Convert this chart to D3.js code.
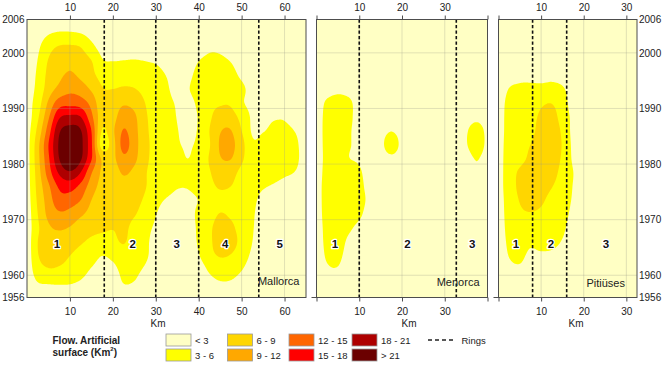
<!DOCTYPE html>
<html>
<head>
<meta charset="utf-8">
<script src="https://cdn.jsdelivr.net/npm/d3@7"></script>
<style>
  html, body { margin: 0; padding: 0; background: #ffffff; }
  svg { display: block; }
  text { font-family: "Liberation Sans", Arial, Helvetica, sans-serif; }
</style>
</head>
<body>
<svg id="chart" width="668" height="365"></svg>
<script>
// ---------------- DATA ----------------
// Grid rows (years, top to bottom) shared by the three panels
const gridYears = [2006, 2003.5, 2001, 1998.5, 1996, 1993.5, 1991, 1988.5, 1986, 1983.5, 1981,
                   1978.5, 1976, 1973.5, 1971, 1968.5, 1966, 1963.5, 1961, 1958.5, 1956];

// Km positions of grid columns
const mallorcaKm = [0, 2.5, 5, 7.5, 10, 12.5, 15, 17.5, 20, 22.5, 25, 27.5, 30, 32.5, 35, 37.5, 40,
                    42.5, 45, 47.5, 50, 52.5, 55, 57.5, 60, 62.5, 65];
const menorcaKm = [0, 2.5, 5, 7.5, 10, 12.5, 15, 17.5, 20, 22.5, 25, 27.5, 30, 32.5, 35, 37.5, 40];
const pitiusesKm = [0, 2.5, 5, 7.5, 10, 12.5, 15, 17.5, 20, 22.5, 25, 27.5, 30, 32.5];

// Flow of artificial surface (km2), one row per gridYears entry
const mallorcaFlow = [
  [0.5,0.8,1.3,1.5,1.5,1.3,0.9,0.7,0.6,0.6,0.6,0.6,0.5,0.5,0.5,0.5,0.6,0.8,0.8,0.6,0.5,0.5,0.5,0.5,0.5,0.5,0.5],
  [0.8,1.6,2.8,3.3,3.3,3.0,2.1,1.3,1.1,1.1,1.1,1.0,0.9,0.8,0.7,0.7,1.0,1.4,1.3,1.0,0.8,0.7,0.7,0.7,0.7,0.6,0.5],
  [1.0,2.5,5.0,6.3,6.5,6.0,3.8,2.1,1.8,1.8,1.8,1.6,1.4,1.1,0.9,0.9,1.6,2.5,2.4,1.6,1.1,0.9,0.8,0.8,0.8,0.7,0.6],
  [1.2,3.1,6.2,7.6,8.2,7.6,6.1,3.3,3.0,3.1,3.2,3.0,2.7,1.9,1.3,1.5,3.0,3.7,3.6,2.9,1.7,1.1,0.9,0.9,0.9,0.8,0.6],
  [1.5,3.5,6.8,8.4,9.4,8.4,6.8,5.0,4.8,5.0,5.0,4.5,4.0,2.9,1.8,2.3,3.9,4.6,4.5,3.9,2.5,1.5,1.2,1.2,1.2,1.0,0.8],
  [1.8,3.8,7.5,9.8,11.2,10.5,8.6,6.2,6.0,6.3,6.1,5.2,4.3,3.4,2.0,2.8,4.2,5.0,5.2,4.8,3.6,2.0,1.5,1.5,1.5,1.2,1.0],
  [2.0,4.5,9.5,13.5,14.0,13.5,11.0,7.0,7.5,8.6,8.0,6.0,4.6,3.8,2.7,2.2,3.6,5.2,5.7,5.6,3.4,2.2,1.8,1.8,1.8,1.5,1.0],
  [1.7,5.5,11.5,17.5,18.6,18.0,12.8,7.3,8.0,10.5,9.5,6.5,4.8,4.0,2.9,2.0,3.2,5.5,7.3,7.2,5.0,2.6,2.5,2.8,2.8,2.2,1.2],
  [1.9,6.8,13.5,20.5,22.5,21.2,15.0,5.8,8.5,12.2,10.0,6.8,4.8,4.2,3.1,2.3,3.3,6.0,8.8,9.1,6.0,2.7,2.9,3.4,3.4,2.9,1.5],
  [2.0,8.0,15.0,21.5,26.0,22.0,15.5,4.6,7.8,13.0,10.2,7.0,5.0,4.4,3.3,2.7,3.6,5.8,9.3,9.8,7.0,3.5,3.8,4.3,4.3,3.6,1.5],
  [2.0,8.0,14.5,21.0,25.0,21.5,15.3,8.5,8.3,11.3,9.7,6.8,5.0,4.4,4.0,3.0,4.3,6.2,8.8,9.1,6.5,4.3,4.0,4.3,4.3,3.7,1.6],
  [2.0,7.5,13.5,18.5,20.6,18.0,12.3,8.5,7.5,9.4,8.3,6.3,4.8,4.2,4.0,4.0,4.3,5.8,7.3,7.0,5.3,4.3,4.0,3.8,3.4,2.9,1.6],
  [1.9,7.0,11.5,15.5,16.3,14.2,10.5,8.0,7.3,7.8,7.5,6.2,4.6,4.0,3.2,3.2,4.0,5.3,6.3,6.0,4.8,3.8,3.2,2.8,2.3,1.8,1.2],
  [1.8,6.5,10.5,13.8,13.5,12.0,9.0,7.3,6.8,7.0,6.8,5.6,3.8,2.8,2.2,2.3,3.1,4.5,5.2,5.0,4.4,3.5,2.4,2.0,1.7,1.4,1.0],
  [1.6,6.0,9.8,11.5,11.0,9.5,8.0,7.0,6.8,6.7,6.2,4.8,3.1,2.0,1.6,1.8,3.7,5.0,6.1,5.6,4.5,3.3,2.0,1.6,1.4,1.2,1.0],
  [1.5,5.5,8.5,9.3,8.8,7.5,6.8,6.4,6.1,6.5,5.2,3.8,2.6,1.5,1.2,1.5,3.6,5.5,7.0,6.6,4.8,3.2,1.8,1.4,1.2,1.1,1.0],
  [1.5,6.0,7.8,7.9,7.2,6.3,5.5,5.0,5.3,6.2,4.6,3.5,2.2,1.2,1.0,1.3,3.4,5.3,7.8,7.3,5.0,3.0,1.6,1.2,1.0,1.0,1.0],
  [1.4,5.8,6.8,6.8,6.0,5.0,4.2,3.0,3.6,4.5,4.1,3.4,2.0,1.0,0.8,1.0,2.8,5.0,6.2,5.8,4.2,2.5,1.2,1.0,1.0,1.0,1.0],
  [1.2,4.8,5.8,5.6,5.0,4.0,2.8,1.8,2.3,3.7,3.5,2.7,1.5,0.8,0.7,0.8,1.5,3.4,4.3,4.2,3.1,1.8,1.0,0.8,0.8,0.8,0.8],
  [0.9,2.8,3.1,3.2,3.1,2.6,1.8,1.1,1.3,3.0,2.8,1.8,1.0,0.6,0.6,0.6,0.8,2.0,2.7,2.6,1.8,1.0,0.7,0.6,0.6,0.6,0.6],
  [0.5,1.0,1.1,1.2,1.1,1.0,0.8,0.6,0.6,1.2,1.0,0.7,0.5,0.5,0.5,0.5,0.5,0.8,1.0,1.0,0.7,0.5,0.5,0.5,0.5,0.5,0.5]
];

const menorcaFlow = [
  [0.8,0.8,0.8,0.8,0.8,0.8,0.8,0.8,0.8,0.8,0.8,0.8,0.8,0.8,0.8,0.8,0.8],
  [0.9,0.9,0.9,0.9,0.9,0.9,0.9,0.9,0.9,0.9,0.9,0.9,0.9,0.9,0.9,0.9,0.9],
  [1.0,1.0,1.0,1.0,1.0,1.0,1.0,1.0,1.0,1.0,1.0,1.0,1.0,1.0,1.0,1.0,1.0],
  [1.0,1.2,1.2,1.2,1.0,1.0,1.0,1.0,1.0,1.0,1.0,1.0,1.0,1.0,1.0,1.0,1.0],
  [1.0,1.4,1.5,1.4,1.1,1.0,1.0,1.0,1.0,1.0,1.0,1.0,1.0,1.0,1.0,1.0,1.0],
  [1.2,1.8,2.3,2.0,1.3,1.1,1.1,1.1,1.1,1.1,1.1,1.1,1.1,1.1,1.1,1.1,1.1],
  [1.5,3.5,4.2,3.6,1.8,1.2,1.2,1.3,1.2,1.2,1.2,1.2,1.2,1.2,1.3,1.4,1.2],
  [1.6,4.0,4.8,3.7,1.9,1.3,1.5,1.8,1.5,1.3,1.3,1.3,1.3,1.4,1.8,2.2,1.6],
  [1.6,4.1,4.8,3.4,2.0,1.4,2.0,2.9,2.0,1.4,1.3,1.3,1.4,1.7,2.7,4.3,2.3],
  [1.6,4.0,4.5,3.3,2.2,1.6,2.2,4.6,2.2,1.4,1.3,1.3,1.4,1.7,2.8,4.5,2.4],
  [1.6,3.9,4.4,3.1,2.6,1.6,1.7,2.3,1.7,1.3,1.3,1.3,1.3,1.5,2.0,3.15,1.9],
  [1.6,4.2,5.0,4.5,3.4,1.8,1.4,1.4,1.3,1.3,1.3,1.3,1.3,1.4,1.8,2.6,1.6],
  [1.7,4.5,5.3,4.9,3.8,2.0,1.3,1.2,1.2,1.2,1.2,1.2,1.2,1.2,1.3,1.5,1.3],
  [1.7,4.5,5.3,5.0,4.0,2.3,1.3,1.2,1.2,1.2,1.2,1.2,1.2,1.2,1.2,1.2,1.2],
  [1.7,4.3,5.0,4.5,3.5,1.8,1.2,1.2,1.2,1.2,1.2,1.2,1.2,1.2,1.2,1.2,1.2],
  [1.6,4.0,4.6,3.5,2.3,1.4,1.1,1.1,1.1,1.1,1.1,1.1,1.1,1.1,1.1,1.1,1.1],
  [1.5,3.8,4.2,2.5,1.6,1.2,1.1,1.1,1.1,1.1,1.1,1.1,1.1,1.1,1.1,1.1,1.1],
  [1.3,3.4,3.6,2.0,1.3,1.0,1.0,1.0,1.0,1.0,1.0,1.0,1.0,1.0,1.0,1.0,1.0],
  [1.0,2.6,2.8,1.6,1.1,1.0,1.0,1.0,1.0,1.0,1.0,1.0,1.0,1.0,1.0,1.0,1.0],
  [0.8,1.8,1.9,1.2,0.9,0.9,0.9,0.9,0.9,0.9,0.9,0.9,0.9,0.9,0.9,0.9,0.9],
  [0.8,0.8,0.8,0.8,0.8,0.8,0.8,0.8,0.8,0.8,0.8,0.8,0.8,0.8,0.8,0.8,0.8]
];

const pitiusesFlow = [
  [0.8,0.8,0.8,0.8,0.8,0.8,0.8,0.8,0.8,0.8,0.8,0.8,0.8,0.8],
  [0.9,0.9,0.9,0.9,0.9,0.9,0.9,0.9,0.9,0.9,0.9,0.9,0.9,0.9],
  [1.0,1.0,1.2,1.2,1.2,1.2,1.0,1.0,1.0,1.0,1.0,1.0,1.0,1.0],
  [1.0,1.3,1.5,1.5,1.5,1.5,1.3,1.1,1.0,1.0,1.0,1.0,1.0,1.0],
  [1.0,1.8,2.2,2.2,2.0,2.3,2.0,1.3,1.1,1.0,1.0,1.0,1.0,1.0],
  [1.2,3.1,3.6,3.7,3.8,3.9,3.3,1.8,1.2,1.0,1.0,1.0,1.0,1.0],
  [1.5,4.0,4.5,4.8,5.6,5.9,4.3,1.8,1.2,1.0,1.0,1.0,1.0,1.0],
  [1.6,4.2,4.6,5.2,6.4,7.0,4.8,2.3,1.2,1.0,1.0,1.0,1.0,1.0],
  [1.6,4.3,4.9,5.4,6.8,7.4,5.5,2.2,1.2,1.0,1.0,1.0,1.0,1.0],
  [1.7,4.5,5.2,6.0,7.0,7.5,5.8,2.4,1.2,1.0,1.0,1.0,1.0,1.0],
  [1.8,4.6,5.4,6.4,7.2,7.2,5.6,2.6,1.2,1.0,1.0,1.0,1.0,1.0],
  [1.8,4.8,6.3,6.8,7.0,6.8,5.2,3.05,1.3,1.0,1.0,1.0,1.0,1.0],
  [1.8,4.8,6.4,6.7,6.8,6.1,4.8,2.9,1.3,1.0,1.0,1.0,1.0,1.0],
  [1.7,4.5,6.1,6.4,6.3,5.3,4.4,2.7,1.3,1.0,1.0,1.0,1.0,1.0],
  [1.6,4.3,5.6,5.9,5.6,4.8,4.0,2.3,1.2,1.0,1.0,1.0,1.0,1.0],
  [1.5,4.0,4.8,5.0,4.7,4.3,3.5,1.8,1.1,1.0,1.0,1.0,1.0,1.0],
  [1.4,3.6,4.2,3.5,3.9,3.8,2.8,1.5,1.0,1.0,1.0,1.0,1.0,1.0],
  [1.2,3.1,3.5,2.5,2.6,2.4,1.8,1.2,1.0,1.0,1.0,1.0,1.0,1.0],
  [1.0,2.3,2.6,1.9,1.8,1.6,1.3,1.0,1.0,1.0,1.0,1.0,1.0,1.0],
  [0.9,1.5,1.6,1.3,1.2,1.1,0.9,0.9,0.9,0.9,0.9,0.9,0.9,0.9],
  [0.8,0.8,0.8,0.8,0.8,0.8,0.8,0.8,0.8,0.8,0.8,0.8,0.8,0.8]
];

// Rings (km) drawn as dashed lines
const mallorcaRings = [18, 30, 40, 54];
const menorcaRings = [10, 32.7];
const pitiusesRings = [8, 16];

// Zone numbers and where they sit (km)
const mallorcaZones = ["1", "2", "3", "4", "5"];
const mallorcaZoneKm = [7, 24.6, 34.9, 46.2, 58.9];
const menorcaZones = ["1", "2", "3"];
const menorcaZoneKm = [4.3, 21.3, 36.4];
const pitiusesZones = ["1", "2", "3"];
const pitiusesZoneKm = [4.1, 12.3, 25.2];
const zoneYear = 1965.6;

// Axis ticks and which of them carry a label
const mallorcaTicks = [10, 20, 30, 40, 50, 60];
const mallorcaTickLabels = [10, 20, 30, 40, 50, 60];
const menorcaTicks = [0, 10, 20, 30, 40];
const menorcaTickLabels = [10, 20, 30];
const pitiusesTicks = [0, 10, 20, 30];
const pitiusesTickLabels = [10, 20, 30];
const yearTicks = [1956, 1960, 1970, 1980, 1990, 2000, 2006];
const yearGrid = [1960, 1970, 1980, 1990, 2000];

// Legend
const levels = [3, 6, 9, 12, 15, 18, 21];
const legendLabels = ["< 3", "3 - 6", "6 - 9", "9 - 12", "12 - 15", "15 - 18", "18 - 21", "> 21"];

// ---------------- STYLE / LAYOUT ----------------
const bgColor = "#FFFFC4";
const levelColors = ["#FFFF00", "#FFD600", "#FFA800", "#FF6600", "#FF0000", "#AE0000", "#6B0000"];
const frameColor = "#4d4d4d";
const Y_TOP = 19.5, Y_BOT = 297.5;
const CELL = 0.25;

const panels = [
  { name: "Mallorca", km: mallorcaKm, flow: mallorcaFlow, rings: mallorcaRings, zones: mallorcaZones,
    zoneKm: mallorcaZoneKm, ticks: mallorcaTicks, tickLabels: mallorcaTickLabels, range: [27, 306],
    nameX: 299.5, nameY: 285, kmX: 158, leftAxis: true, rightAxis: false, leftTick: false },
  { name: "Menorca", km: menorcaKm, flow: menorcaFlow, rings: menorcaRings, zones: menorcaZones,
    zoneKm: menorcaZoneKm, ticks: menorcaTicks, tickLabels: menorcaTickLabels, range: [316.5, 487.5],
    nameX: 479.5, nameY: 285.5, kmX: 409, leftAxis: false, rightAxis: false, leftTick: true },
  { name: "Pitiüses", km: pitiusesKm, flow: pitiusesFlow, rings: pitiusesRings, zones: pitiusesZones,
    zoneKm: pitiusesZoneKm, ticks: pitiusesTicks, tickLabels: pitiusesTickLabels, range: [498.5, 637],
    nameX: 625, nameY: 287, kmX: 576, leftAxis: false, rightAxis: true, leftTick: true }
];

const svg = d3.select("#chart");
const y = d3.scaleLinear().domain([gridYears[gridYears.length - 1], gridYears[0]]).range([Y_BOT, Y_TOP]);

// Catmull-Rom bicubic sampling of the read grid (rendering only)
function cr(p0, p1, p2, p3, t) {
  return p1 + 0.5 * t * (p2 - p0 + t * (2 * p0 - 5 * p1 + 4 * p2 - p3 + t * (3 * (p1 - p2) + p3 - p0)));
}
function sampleGrid(grid, u, v) {
  const nr = grid.length, nc = grid[0].length;
  const i = Math.floor(u), j = Math.floor(v);
  const tx = u - i, ty = v - j;
  const cl = (a, n) => Math.max(0, Math.min(n - 1, a));
  const r = [];
  for (let dj = -1; dj <= 2; dj++) {
    const row = grid[cl(j + dj, nr)];
    r.push(cr(row[cl(i - 1, nc)], row[cl(i, nc)], row[cl(i + 1, nc)], row[cl(i + 2, nc)], tx));
  }
  return cr(r[0], r[1], r[2], r[3], ty);
}

panels.forEach((p, pi) => {
  const kmMin = p.km[0], kmMax = p.km[p.km.length - 1];
  const kmStep = p.km[1] - p.km[0];
  const yStep = gridYears[0] - gridYears[1];
  const yMax = gridYears[0], yMin = gridYears[gridYears.length - 1];
  const x = d3.scaleLinear().domain([kmMin, kmMax]).range(p.range);
  const g = svg.append("g");

  const clipId = "clip" + pi;
  svg.append("clipPath").attr("id", clipId).append("rect")
    .attr("x", x(kmMin)).attr("y", Y_TOP).attr("width", x(kmMax) - x(kmMin)).attr("height", Y_BOT - Y_TOP);

  const plot = g.append("g").attr("clip-path", `url(#${clipId})`);
  plot.append("rect").attr("x", x(kmMin)).attr("y", Y_TOP)
    .attr("width", x(kmMax) - x(kmMin)).attr("height", Y_BOT - Y_TOP).attr("fill", bgColor);

  // fine field for smooth contour rendering
  const n = Math.round((kmMax - kmMin) / CELL), m = Math.round((yMax - yMin) / CELL);
  const vals = new Float64Array(n * m);
  for (let j = 0; j < m; j++) {
    const yr = yMax - (j + 0.5) * CELL;
    const v = (yMax - yr) / yStep;
    for (let i = 0; i < n; i++) {
      const km = kmMin + (i + 0.5) * CELL;
      vals[j * n + i] = sampleGrid(p.flow, (km - kmMin) / kmStep, v);
    }
  }
  const contours = d3.contours().size([n, m]).thresholds(levels)(vals);
  const proj = d3.geoTransform({
    point(px, py) { this.stream.point(x(kmMin + px * CELL), y(yMax - py * CELL)); }
  });
  const path = d3.geoPath(proj);
  plot.selectAll("path.band").data(contours).join("path")
    .attr("class", "band")
    .attr("d", path)
    .attr("fill", d => levelColors[levels.indexOf(d.value)])
    .attr("stroke", "none");

  // grid lines
  const vGrid = p.ticks.filter(t => t > kmMin && t < kmMax);
  plot.selectAll("line.vg").data(vGrid).join("line").attr("class", "vg")
    .attr("x1", d => x(d)).attr("x2", d => x(d)).attr("y1", Y_TOP).attr("y2", Y_BOT)
    .attr("stroke", "#9a9a8a").attr("stroke-opacity", 0.3).attr("stroke-width", 1);
  plot.selectAll("line.hg").data(yearGrid).join("line").attr("class", "hg")
    .attr("x1", x(kmMin)).attr("x2", x(kmMax)).attr("y1", d => y(d)).attr("y2", d => y(d))
    .attr("stroke", "#9a9a8a").attr("stroke-opacity", 0.3).attr("stroke-width", 1);

  // rings
  g.selectAll("line.ring").data(p.rings).join("line").attr("class", "ring")
    .attr("x1", d => x(d)).attr("x2", d => x(d)).attr("y1", Y_TOP).attr("y2", Y_BOT)
    .attr("stroke", "#111").attr("stroke-width", 1.6).attr("stroke-dasharray", "3.3,2.2");

  // frame
  g.append("rect").attr("x", x(kmMin)).attr("y", Y_TOP)
    .attr("width", x(kmMax) - x(kmMin)).attr("height", Y_BOT - Y_TOP)
    .attr("fill", "none").attr("stroke", frameColor).attr("stroke-width", 1);

  // axes
  const fmt = d => p.tickLabels.includes(d) ? String(d) : "";
  const top = g.append("g").attr("transform", `translate(0,${Y_TOP})`)
    .call(d3.axisTop(x).tickValues(p.ticks).tickSize(4).tickPadding(4.5).tickFormat(fmt));
  const bot = g.append("g").attr("transform", `translate(0,${Y_BOT})`)
    .call(d3.axisBottom(x).tickValues(p.ticks).tickSize(4).tickPadding(6.4).tickFormat(fmt));
  [top, bot].forEach(a => {
    a.select(".domain").remove();
    a.selectAll("line").attr("stroke", frameColor);
    a.selectAll("text").attr("font-size", 10).attr("fill", "#222")
      .attr("font-family", "'Liberation Sans', Arial, sans-serif");
  });

  if (p.leftAxis) {
    const la = g.append("g").attr("transform", `translate(${x(kmMin)},0)`)
      .call(d3.axisLeft(y).tickValues(yearTicks).tickSize(0).tickPadding(2.5).tickFormat(d3.format("d")));
    la.select(".domain").remove();
    la.selectAll("text").attr("font-size", 10).attr("fill", "#222")
      .attr("font-family", "'Liberation Sans', Arial, sans-serif");
  }
  if (p.rightAxis) {
    const ra = g.append("g").attr("transform", `translate(${x(kmMax)},0)`)
      .call(d3.axisRight(y).tickValues(yearTicks).tickSize(0).tickPadding(2).tickFormat(d3.format("d")));
    ra.select(".domain").remove();
    ra.selectAll("text").attr("font-size", 10).attr("fill", "#222")
      .attr("font-family", "'Liberation Sans', Arial, sans-serif");
  }
  if (p.leftTick) {
    g.append("line").attr("x1", x(kmMin) - 5).attr("x2", x(kmMin))
      .attr("y1", y(yMin)).attr("y2", y(yMin)).attr("stroke", frameColor);
  }

  // zone numbers
  g.selectAll("text.zone").data(p.zones).join("text").attr("class", "zone")
    .attr("x", (d, i) => x(p.zoneKm[i])).attr("y", y(zoneYear)).attr("dy", "0.36em")
    .attr("text-anchor", "middle").attr("font-size", 11.5).attr("font-weight", "bold")
    .attr("fill", "#111").attr("stroke", "#fff").attr("stroke-width", 2.6)
    .attr("paint-order", "stroke").attr("stroke-linejoin", "round")
    .text(d => d);

  // panel name
  g.append("text").attr("x", p.nameX).attr("y", p.nameY).attr("text-anchor", "end")
    .attr("font-size", 11).attr("fill", "#222").text(p.name);

  // Km label
  g.append("text").attr("x", p.kmX).attr("y", 327).attr("text-anchor", "middle")
    .attr("font-size", 10).attr("fill", "#222").text("Km");
});

// ---------------- LEGEND ----------------
const lg = svg.append("g");
lg.append("text").attr("x", 52.5).attr("y", 344).attr("font-size", 10).attr("font-weight", "bold")
  .attr("fill", "#222").text("Flow. Artificial");
const t2 = lg.append("text").attr("x", 52.5).attr("y", 355.5).attr("font-size", 10)
  .attr("font-weight", "bold").attr("fill", "#222");
t2.append("tspan").text("surface (Km");
t2.append("tspan").attr("font-size", 6).attr("dy", -5).text("2");
t2.append("tspan").attr("dy", 5).text(")");

const colX = [166, 227.5, 289, 352];
const rowY = [334, 349];
const legendColors = [bgColor].concat(levelColors);
legendLabels.forEach((lab, i) => {
  const cx = colX[Math.floor(i / 2)], cy = rowY[i % 2];
  lg.append("rect").attr("x", cx).attr("y", cy).attr("width", 25).attr("height", 12)
    .attr("fill", legendColors[i]).attr("stroke", "#9a9a9a").attr("stroke-width", 0.8);
  lg.append("text").attr("x", cx + 29).attr("y", cy + 9.5).attr("font-size", 9.5)
    .attr("fill", "#222").text(lab);
});
lg.append("line").attr("x1", 428).attr("x2", 455).attr("y1", 340).attr("y2", 340)
  .attr("stroke", "#222").attr("stroke-width", 1.5).attr("stroke-dasharray", "4,3");
lg.append("text").attr("x", 461.5).attr("y", 343.5).attr("font-size", 9.5).attr("fill", "#222").text("Rings");
</script>
</body>
</html>
